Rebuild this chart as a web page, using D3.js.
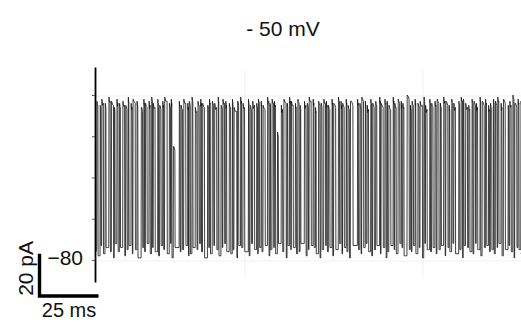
<!DOCTYPE html>
<html>
<head>
<meta charset="UTF-8">
<title>- 50 mV</title>
<script src="https://cdn.jsdelivr.net/npm/d3@7"></script>
<style>
    body { margin: 0; background: #fff; }
    text { font-family: "Liberation Sans", Arial, sans-serif; fill: #111; }
</style>
</head>
<body>
<svg id="chart" width="521" height="322"></svg>
<script>

// dwell times, in ms (closed gap before each opening, then the opening)
const closedDur = [
    0.3, 0.9, 0.4, 0.7, 1.2, 0.5, 0.3, 0.8, 0.6, 1.0, 0.4, 0.5, 0.9, 0.3, 0.7, 1.4, 0.5, 0.4, 0.8, 0.6,
    0.3, 1.1, 0.5, 0.7, 0.4, 0.9, 0.3, 0.6, 1.8, 0.4, 0.5, 0.8, 0.3, 0.7, 1.0, 0.4, 0.6, 0.5, 1.3, 0.3,
    0.8, 0.4, 0.6, 0.9, 0.3, 0.5, 1.1, 0.7, 0.4, 0.3, 0.8, 0.6, 1.6, 0.4, 0.5, 0.9, 0.3, 0.7, 0.5, 1.0,
    0.4, 0.6, 0.3, 0.8, 1.2, 0.5, 0.4, 0.7, 0.3, 0.9, 0.6, 0.4, 1.5, 0.5, 0.3, 0.8, 0.6, 1.0, 0.4, 0.7,
    0.3, 0.5, 0.9, 0.4, 1.1, 0.6, 0.3, 0.8, 0.5, 0.4, 1.9, 0.6, 0.3, 0.7, 0.5, 0.9, 0.4, 0.6, 1.2, 0.3,
    0.7, 0.4, 0.5, 1.0, 0.3, 0.8, 0.6, 0.4, 1.3, 0.5, 0.3, 0.7, 0.9, 0.4, 0.6, 0.3, 1.1, 0.5, 0.8, 0.4,
    0.6, 1.0, 0.3, 0.5, 0.8, 0.4, 1.4, 0.6, 0.3, 0.7, 0.5, 0.9, 0.4, 0.3, 1.0, 0.6, 0.5, 0.8, 0.4, 0.7,
    0.5, 0.3, 0.9, 0.6, 1.2, 0.4, 0.7, 0.3, 0.5, 0.8
];
const openDur = [
    0.5, 0.3, 0.7, 0.4, 0.6, 0.9, 0.3, 0.5, 0.4, 0.8, 0.6, 0.3, 0.5, 1.0, 0.4, 0.6, 0.3, 0.7, 0.5, 0.4,
    0.8, 0.3, 0.6, 0.4, 1.1, 0.5, 0.3, 0.7, 0.4, 0.6, 0.9, 0.3, 0.5, 0.4, 0.7, 0.6, 0.3, 0.8, 0.5, 0.4,
    0.6, 0.9, 0.3, 0.5, 0.7, 0.4, 0.6, 0.3, 1.2, 0.5, 0.4, 0.7, 0.3, 0.6, 0.8, 0.4, 0.5, 0.3, 0.9, 0.6,
    0.3, 0.7, 0.5, 0.4, 0.6, 1.0, 0.3, 0.5, 0.8, 0.4, 0.6, 0.3, 0.7, 0.5, 0.9, 0.4, 0.3, 0.6, 0.5, 0.8,
    0.4, 0.6, 0.3, 0.9, 0.5, 0.4, 0.7, 0.3, 0.6, 1.1, 0.4, 0.5, 0.8, 0.3, 0.6, 0.4, 0.7, 0.5, 0.3, 0.9,
    0.5, 0.3, 0.8, 0.4, 0.6, 0.7, 0.3, 0.5, 0.9, 0.4, 0.6, 0.3, 0.5, 1.0, 0.4, 0.7, 0.3, 0.6, 0.5, 0.8,
    0.4, 0.6, 0.9, 0.3, 0.5, 0.7, 0.4, 0.6, 0.3, 0.8, 0.5, 0.4, 0.7, 0.6, 0.3, 0.9, 0.5, 0.4, 0.6, 0.3,
    0.7, 0.5, 0.4, 0.8, 0.3, 0.6, 0.5, 0.9, 0.4, 0.6
];
// level reached by each opening (pA)
const openAmp = [
    77, 75, 78, 76, 79, 77, 74, 78, 76, 77, 75, 79, 76, 78, 77, 74, 78, 76, 77, 79,
    76, 78, 75, 77, 79, 76, 78, 55, 77, 75, 78, 76, 77, 79, 74, 77, 78, 76, 75, 78,
    77, 76, 79, 75, 78, 77, 76, 78, 74, 77, 79, 76, 78, 75, 77, 76, 78, 77, 75, 79,
    76, 78, 77, 62, 75, 78, 76, 79, 77, 76, 78, 75, 77, 76, 79, 78, 74, 77, 76, 78,
    77, 75, 78, 76, 79, 77, 76, 78, 75, 77, 78, 76, 79, 77, 75, 78, 76, 77, 79, 76,
    78, 77, 75, 79, 76, 78, 77, 76, 80, 75, 77, 78, 76, 77, 79, 75, 78, 76, 77, 78,
    76, 79, 77, 75, 78, 76, 77, 79, 78, 76, 75, 78, 77, 76, 79, 77, 78, 75, 76, 78,
    77, 79, 76, 78, 75, 77, 80, 76, 78, 77
];
// closed-level wobble during each gap (pA)
const closedAmp = [
    2, -1, 4, 0, 3, 1, -2, 5, 1, 3, -1, 2, 4, 0, 2, -2, 3, 1, 5, 0,
    3, 1, -1, 4, 2, 0, 5, -2, 3, 1, 2, 4, -1, 0, 3, 2, 5, 1, -2, 3,
    0, 4, 2, -1, 3, 5, 1, 0, 2, -2, 4, 3, 1, -1, 5, 2, 0, 3, 1, 4,
    -1, 2, 3, 0, 5, 1, -2, 4, 2, 3, 0, 1, 5, -1, 2, 4, 3, 0, -2, 2,
    4, 1, 3, -1, 2, 5, 0, 3, 1, -2, 4, 2, 0, 3, 5, 1, -1, 2, 4, 0,
    3, -2, 1, 4, 2, 0, 5, 3, -1, 2, 1, 4, 0, 3, -2, 5, 2, 1, 3, 0,
    2, 4, -1, 3, 1, 5, 0, 2, -2, 4, 3, 1, 0, 5, 2, -1, 3, 4, 1, 2,
    0, 3, 5, -1, 2, 4, 1, -2, 3, 2
];
const closedBase = 3;
const traceEnd = 180;

const tickValues = [0, 20, 40, 60, 80];
const tickLabels = ["\u221280", "", "", "", ""];
const title = "- 50 mV";
const barTime = 25, barCurrent = 20;

const svg = d3.select("#chart");

let x = d3.scaleLinear().domain([0, traceEnd]).range([96, 521]);
let y = d3.scaleLinear().domain([-10.7, 93.6]).range([282, 67]);

svg.append("defs").append("clipPath").attr("id", "clip")
    .append("rect").attr("x", 96).attr("y", 0).attr("width", 425).attr("height", 322);

// faint background lines
svg.append("g")
    .selectAll("line")
    .data([245, 423])
    .join("line")
    .attr("x1", d => d).attr("x2", d => d)
    .attr("y1", 70).attr("y2", 278)
    .attr("stroke", "#f1f1f1");
svg.append("g")
    .selectAll("line")
    .data([80, 0])
    .join("line")
    .attr("x1", 96).attr("x2", 521)
    .attr("y1", d => y(d) + 1).attr("y2", d => y(d) + 1)
    .attr("stroke", "#f1f1f1");

// build the trace from the dwell lists
let pts = [];
let t = 0;
let prev = closedBase + 1;
closedDur.forEach((cd, i) => {
    let c = closedBase + closedAmp[i];
    pts.push([t + 0.1, prev]);
    pts.push([t + cd / 2, c]);
    t += cd;
    pts.push([t, c]);
    pts.push([t + 0.1, openAmp[i]]);
    pts.push([t + openDur[i] / 2, openAmp[i] - 1 - closedAmp[i] / 2]);
    t += openDur[i];
    pts.push([t, openAmp[i] - 2]);
    prev = closedBase + closedAmp[(i + 1) % closedAmp.length];
});
pts.push([t + 0.1, prev]);
pts.push([traceEnd, closedBase]);

let line = d3.line().x(d => x(d[0])).y(d => y(d[1]));

svg.append("path")
    .datum(pts)
    .attr("clip-path", "url(#clip)")
    .attr("d", line)
    .attr("fill", "none")
    .attr("stroke", "#111")
    .attr("stroke-width", 0.8)
    .attr("stroke-linejoin", "round");

// y axis
let yAxis = svg.append("g")
    .attr("transform", "translate(95,0)")
    .call(d3.axisLeft(y)
        .tickValues(tickValues)
        .tickSize(3)
        .tickSizeOuter(0)
        .tickPadding(9)
        .tickFormat((d, i) => tickLabels[i]));
yAxis.select(".domain").attr("stroke", "#000").attr("stroke-width", 1.8);
yAxis.selectAll(".tick line").attr("stroke", "#555");
yAxis.selectAll(".tick text")
    .attr("font-size", 21)
    .attr("font-family", "Liberation Sans, Arial, sans-serif")
    .attr("fill", "#111")
    .attr("dy", "0.2em");

// title
svg.append("text")
    .attr("x", 283)
    .attr("y", 36)
    .attr("text-anchor", "middle")
    .attr("font-size", 21)
    .text(title);

// scale bar
let bx = 39.5, by = 296;
let barLen = x(barTime) - x(0);
let barH = y(0) - y(barCurrent);
svg.append("path")
    .attr("d", `M${bx},${by - barH - 1}V${by}H${bx + barLen}`)
    .attr("fill", "none")
    .attr("stroke", "#000")
    .attr("stroke-width", 3.4);

svg.append("text")
    .attr("transform", `translate(33,${by - barH / 2 - 7}) rotate(-90)`)
    .attr("text-anchor", "middle")
    .attr("font-size", 21)
    .text(barCurrent + " pA");

svg.append("text")
    .attr("x", bx + barLen / 2)
    .attr("y", 317)
    .attr("text-anchor", "middle")
    .attr("font-size", 20)
    .text(barTime + " ms");

</script>
</body>
</html>
